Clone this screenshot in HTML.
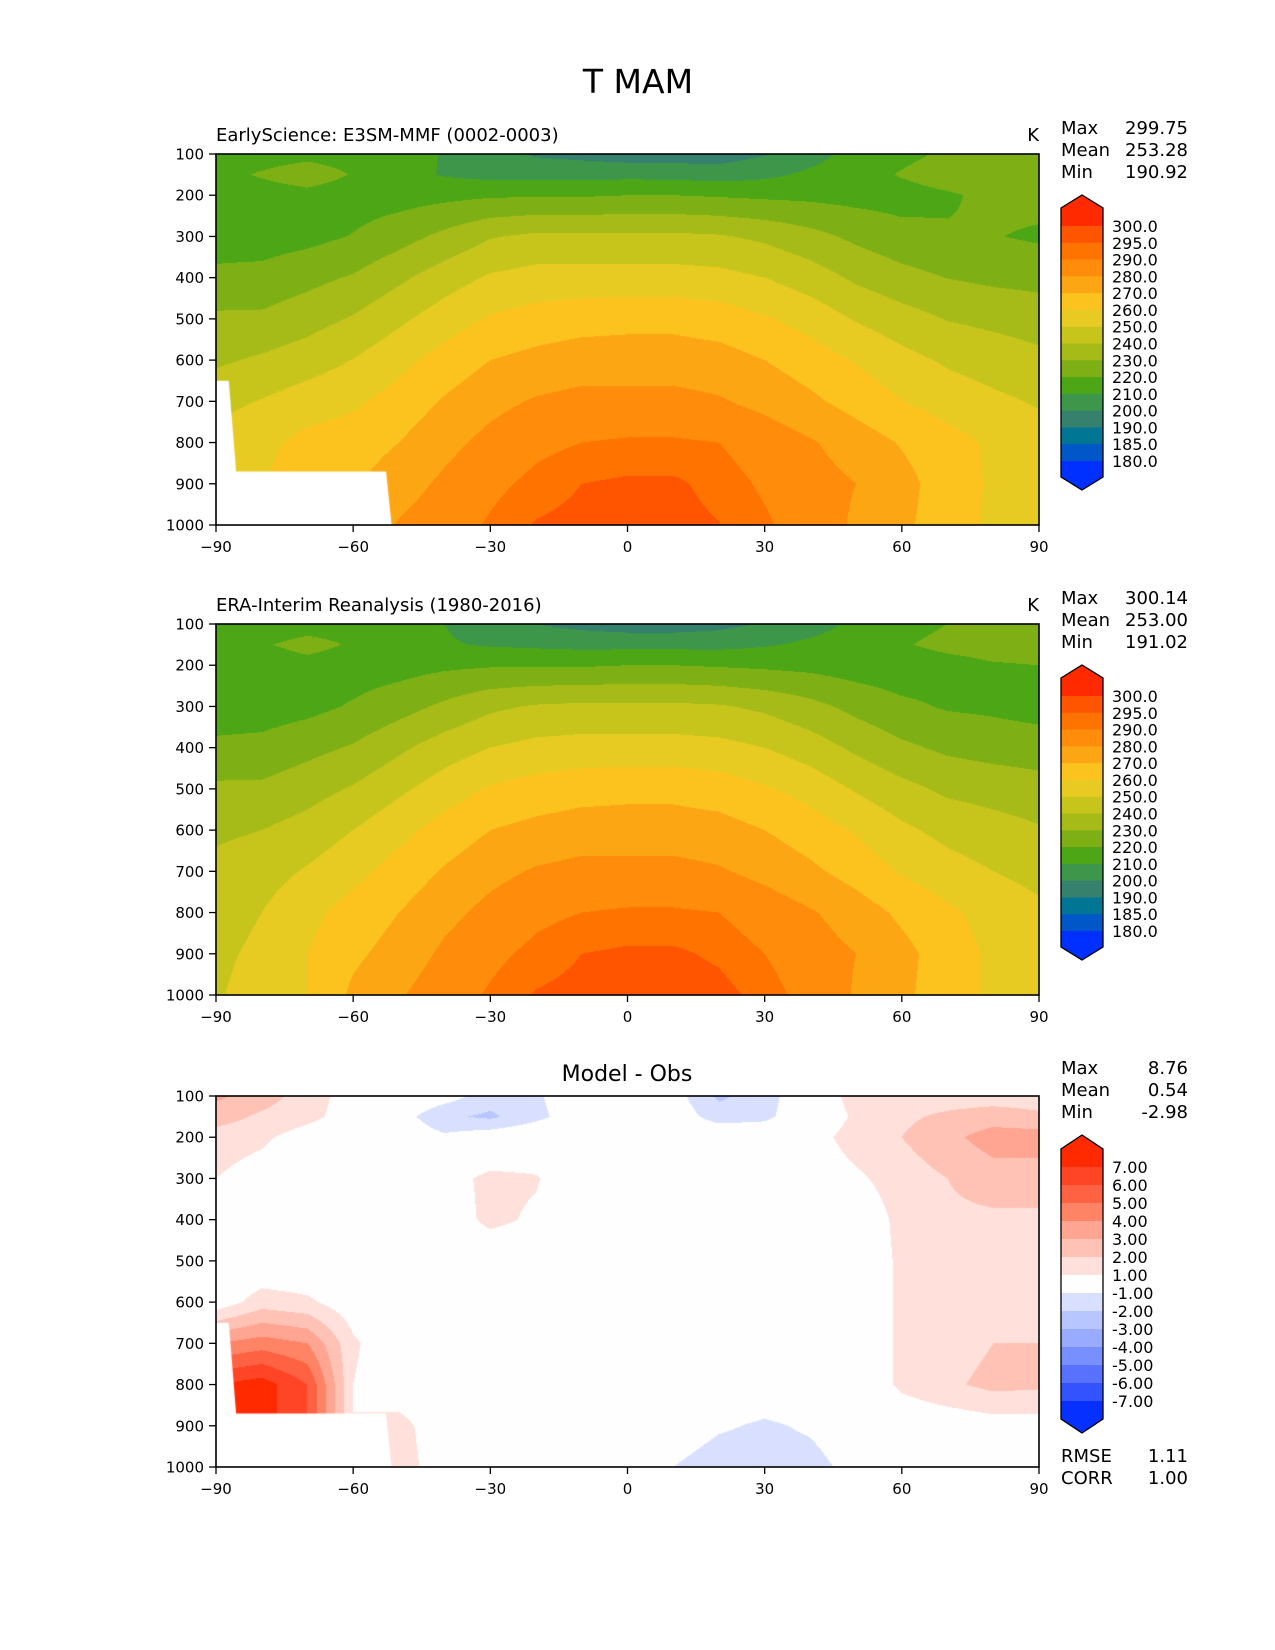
<!DOCTYPE html>
<html><head><meta charset="utf-8">
<style>
html,body{margin:0;padding:0;background:#fff;}
#wrap{position:relative;width:1275px;height:1650px;overflow:hidden;font-family:"Liberation Sans","DejaVu Sans",sans-serif;}
canvas{position:absolute;}
svg{position:absolute;left:0;top:0;}
text{font-family:"DejaVu Sans","Liberation Sans",sans-serif;fill:#000;}
</style></head>
<body>
<div id="wrap">
<canvas id="c1" width="823" height="371" style="left:216px;top:154px"></canvas>
<canvas id="c2" width="823" height="371" style="left:216px;top:624px"></canvas>
<canvas id="c3" width="823" height="371" style="left:216px;top:1096px"></canvas>
<svg id="ov" width="1275" height="1650">
<text x="638" y="93" font-size="33" text-anchor="middle">T MAM</text>
<text x="216" y="141" font-size="18">EarlyScience: E3SM-MMF (0002-0003)</text>
<text x="1039" y="141" font-size="18" text-anchor="end">K</text>
<text x="216" y="611" font-size="18">ERA-Interim Reanalysis (1980-2016)</text>
<text x="1039" y="611" font-size="18" text-anchor="end">K</text>
<text x="627" y="1081" font-size="22" text-anchor="middle">Model - Obs</text>
<g font-size="18">
<text x="1061" y="134">Max</text><text x="1188" y="134" text-anchor="end">299.75</text>
<text x="1061" y="156">Mean</text><text x="1188" y="156" text-anchor="end">253.28</text>
<text x="1061" y="178">Min</text><text x="1188" y="178" text-anchor="end">190.92</text>
</g>
<g font-size="18">
<text x="1061" y="604">Max</text><text x="1188" y="604" text-anchor="end">300.14</text>
<text x="1061" y="626">Mean</text><text x="1188" y="626" text-anchor="end">253.00</text>
<text x="1061" y="648">Min</text><text x="1188" y="648" text-anchor="end">191.02</text>
</g>
<g font-size="18">
<text x="1061" y="1074">Max</text><text x="1188" y="1074" text-anchor="end">8.76</text>
<text x="1061" y="1096">Mean</text><text x="1188" y="1096" text-anchor="end">0.54</text>
<text x="1061" y="1118">Min</text><text x="1188" y="1118" text-anchor="end">-2.98</text>
<text x="1061" y="1462">RMSE</text><text x="1188" y="1462" text-anchor="end">1.11</text>
<text x="1061" y="1484">CORR</text><text x="1188" y="1484" text-anchor="end">1.00</text>
</g>
</svg>
</div>
<script>
// ---- data ----
const lats = [-90,-80,-70,-60,-50,-40,-30,-20,-10,0,10,20,30,40,50,60,70,80,90];
const pres = [100,150,200,300,400,500,600,700,800,900,1000];
const obsT = [
[212,214,216,216,213,210,205,200,197,195,195,197,201,206,212,216,220,223,224],
[215,219,223,219,214,211,209,208,207,207,207,207,209,212,215,219,223,225,226],
[213,215,217,215,216,218,219,219,219,220,220,219,218,217,215,214,216,219,220],
[215,215,217,221,226,232,238,241,242,242,242,241,238,233,227,222,219,218,216],
[222,223,227,231,238,245,250,253,254,254,254,253,250,245,238,232,228,226,225],
[232,232,236,241,248,255,261,264,266,267,267,265,261,256,249,243,238,236,234],
[238,240,244,250,257,264,270,273,275,275,275,274,270,265,259,252,247,244,241],
[243,246,251,257,264,271,277,281,283,283,283,281,277,272,266,259,254,250,247],
[246,250,257,264,270,277,283,288,290,291,291,290,286,281,275,268,262,256,252],
[248,252,260,268,274,282,288,292,295,296,296,294,290,285,280,273,265,258,254],
[249,254,260,272,279,286,291,295.5,297,298,298,297,293,287,279,272,265,258,256]
];
const diffT = [
[3.2,2.5,1.5,0.5,0,-0.5,-1.5,-1.2,0,0,-0.5,-2.2,-1.5,0,1.5,1.5,1.5,1.5,1.5],
[2.5,1.8,1.3,0.5,-0.5,-1.8,-2.2,-1.3,-0.3,0,-0.3,-1.5,-1.3,0,1.2,1.8,2.2,2.5,2.2],
[1.5,1.2,0.5,0.2,-0.2,-0.8,-0.3,0,0,0,0,0,0,0.5,1.5,2,2.7,3.5,3.5],
[1.0,0.5,0,-0.5,0,0.5,1.3,1.1,0,0,0,0,0,0.2,0.8,1.5,2,2.5,2.5],
[0,0,0,0,0,0.3,1.3,0.8,0,0,0,0,0,0,0.2,1.3,1.8,1.8,1.8],
[0,0,0,0,0,0,0,0,0,0,0,0,0,0,0.2,1.2,1.5,1.5,1.5],
[0.3,1.5,1.2,0.3,0,0,0,0,0,0,0,0,0,0,0.2,1.2,1.5,1.5,1.5],
[4,4.5,4,1.2,0,0,0,0,0,0,0,0,0,0,0.2,1.2,1.5,2,2],
[7,7.5,6,1.0,0,0,0,0,0,0,0,0,0,0,0.2,1.2,1.8,2.3,2.2],
[7,7.5,6,1.0,1.5,0,0,0,0,0,0,-0.8,-1.2,-0.8,0,0.2,0.3,0.5,0.5],
[0,0,0,0,1.8,0,0,0,0,0,-1.0,-1.8,-1.8,-1.5,-0.5,0,0,0,0]
];
const tLevels = [180,185,190,200,210,220,230,240,250,260,270,280,290,295,300];
const tColors = ['#0030ff','#0057c8','#007694','#36806e','#3e964a','#4ca615','#7eb016','#a6bb17','#c7c51b','#e8cb22','#fcc21e','#fda614','#ff8c0a','#ff7300','#ff5500','#ff2a00'];
const tTickLabels = ['300.0','295.0','290.0','280.0','270.0','260.0','250.0','240.0','230.0','220.0','210.0','200.0','190.0','185.0','180.0'];
const dLevels = [-7,-6,-5,-4,-3,-2,-1,1,2,3,4,5,6,7];
const dColors = ['#0530ff','#3353ff','#5872ff','#7890ff','#98abff','#b8c6ff','#d9e0ff','#fefefe','#ffe0db','#ffc2b5','#ffa591','#ff8466','#ff6143','#ff4525','#ff2a00'];
const dTickLabels = ['7.00','6.00','5.00','4.00','3.00','2.00','1.00','-1.00','-2.00','-3.00','-4.00','-5.00','-6.00','-7.00'];
const yTicks = [100,200,300,400,500,600,700,800,900,1000];
const xTicks = [-90,-60,-30,0,30,60,90];
const maskPoly = [[-90,650],[-87.2,650],[-85.6,870],[-52.8,870],[-51.6,1000],[-90,1000]];

// ---- geometry ----
const AX = {x0:216, x1:1039, h:371};
const plotsTop = [154, 624, 1096];
const NS = 'http://www.w3.org/2000/svg';
const ov = document.getElementById('ov');

function xOf(lat){ return AX.x0 + (lat+90)/180*(AX.x1-AX.x0); }
function yOf(p, top){ return top + (p-100)/900*AX.h; }

function interp(grid, lat, p){
  let fi = (lat+90)/10; let i = Math.min(17, Math.max(0, Math.floor(fi))); let tx = fi - i;
  let j = 0; while (j < pres.length-2 && p > pres[j+1]) j++;
  let ty = (p - pres[j])/(pres[j+1]-pres[j]);
  const a = grid[j][i], b = grid[j][i+1], c = grid[j+1][i], d = grid[j+1][i+1];
  return (a*(1-tx)+b*tx)*(1-ty) + (c*(1-tx)+d*tx)*ty;
}
function hex(c){ return [parseInt(c.substr(1,2),16),parseInt(c.substr(3,2),16),parseInt(c.substr(5,2),16)]; }

function drawField(id, fn, levels, colors, masked){
  const cv = document.getElementById(id), ctx = cv.getContext('2d');
  const W = cv.width, H = cv.height, img = ctx.createImageData(W,H);
  const rgb = colors.map(hex);
  for (let py=0; py<H; py++){
    const p = 100 + (py+0.5)/H*900;
    for (let px=0; px<W; px++){
      const lat = -90 + (px+0.5)/W*180;
      const v = fn(lat,p);
      let k = 0; while (k < levels.length && v >= levels[k]) k++;
      const c = rgb[k], o = (py*W+px)*4;
      img.data[o]=c[0]; img.data[o+1]=c[1]; img.data[o+2]=c[2]; img.data[o+3]=255;
    }
  }
  ctx.putImageData(img,0,0);
  if (masked){
    ctx.fillStyle = '#ffffff';
    ctx.beginPath();
    maskPoly.forEach((q,n)=>{
      const X = (q[0]+90)/180*W, Y = (q[1]-100)/900*H;
      if (n===0) ctx.moveTo(X,Y); else ctx.lineTo(X,Y);
    });
    ctx.closePath(); ctx.fill();
  }
}
drawField('c1', (la,p)=>interp(obsT,la,p)+interp(diffT,la,p), tLevels, tColors, true);
drawField('c2', (la,p)=>interp(obsT,la,p), tLevels, tColors, false);
drawField('c3', (la,p)=>interp(diffT,la,p), dLevels, dColors, true);

function mk(tag, attrs, parent){
  const e = document.createElementNS(NS, tag);
  for (const k in attrs) e.setAttribute(k, attrs[k]);
  (parent||ov).appendChild(e); return e;
}

plotsTop.forEach((top, pi) => {
  const fr = mk('rect', {x:AX.x0, y:top, width:AX.x1-AX.x0, height:AX.h, fill:'none', stroke:'#000', 'stroke-width':1.6});
  
  
  yTicks.forEach(p => {
    const y = yOf(p, top);
    const tk = mk('line', {x1:AX.x0-7, x2:AX.x0, y1:y, y2:y, stroke:'#000', 'stroke-width':1.3});
    
    
    const t = mk('text', {x:AX.x0-12, y:y+5.5, 'font-size':15, 'text-anchor':'end'});
    t.textContent = String(p);
    
    
  });
  xTicks.forEach(l => {
    const x = xOf(l), yb = top+AX.h;
    const tk = mk('line', {x1:x, x2:x, y1:yb, y2:yb+7, stroke:'#000', 'stroke-width':1.3});
    
    
    const t = mk('text', {x:x, y:yb+27, 'font-size':15, 'text-anchor':'middle'});
    t.textContent = l < 0 ? '\u2212' + Math.abs(l) : String(l);
    
    
  });
});

function colorbar(levels, colors, labels, tipTop, rectTop, b0, step, rectBot, tipBot, nameBase){
  const x0 = 1061, x1 = 1103, xm = (x0+x1)/2;
  const n = labels.length;
  const bs = []; for (let k=0;k<n;k++) bs.push(b0 + k*step);
  const desc = colors.slice().reverse();
  const tri = mk('polygon', {points:`${x0},${rectTop} ${xm},${tipTop} ${x1},${rectTop} ${x1},${bs[0]} ${x0},${bs[0]}`, fill:desc[0]});
  
  
  for (let k=0;k<n-1;k++){
    const r = mk('rect', {x:x0, y:bs[k], width:x1-x0, height:step+0.5, fill:desc[k+1]});
    
    
  }
  const tb = mk('polygon', {points:`${x0},${bs[n-1]} ${x1},${bs[n-1]} ${x1},${rectBot} ${xm},${tipBot} ${x0},${rectBot}`, fill:desc[desc.length-1]});
  
  
  const ol = mk('polygon', {points:`${x0},${rectTop} ${xm},${tipTop} ${x1},${rectTop} ${x1},${rectBot} ${xm},${tipBot} ${x0},${rectBot}`, fill:'none', stroke:'#000', 'stroke-width':1.3});
  
  
  labels.forEach((lb,k) => {
    const t = mk('text', {x:1112, y:bs[k]+6, 'font-size':16});
    t.textContent = lb;
    
    
  });
}
colorbar(tLevels, tColors, tTickLabels, 195, 208, 226, (461-226)/14, 477, 490, 'model-colorbar');
colorbar(tLevels, tColors, tTickLabels, 665, 678, 696, (461-226)/14, 947, 960, 'obs-colorbar');
colorbar(dLevels, dColors, dTickLabels, 1135, 1149, 1167, 18, 1419, 1433, 'diff-colorbar');
</script>
</body></html>
